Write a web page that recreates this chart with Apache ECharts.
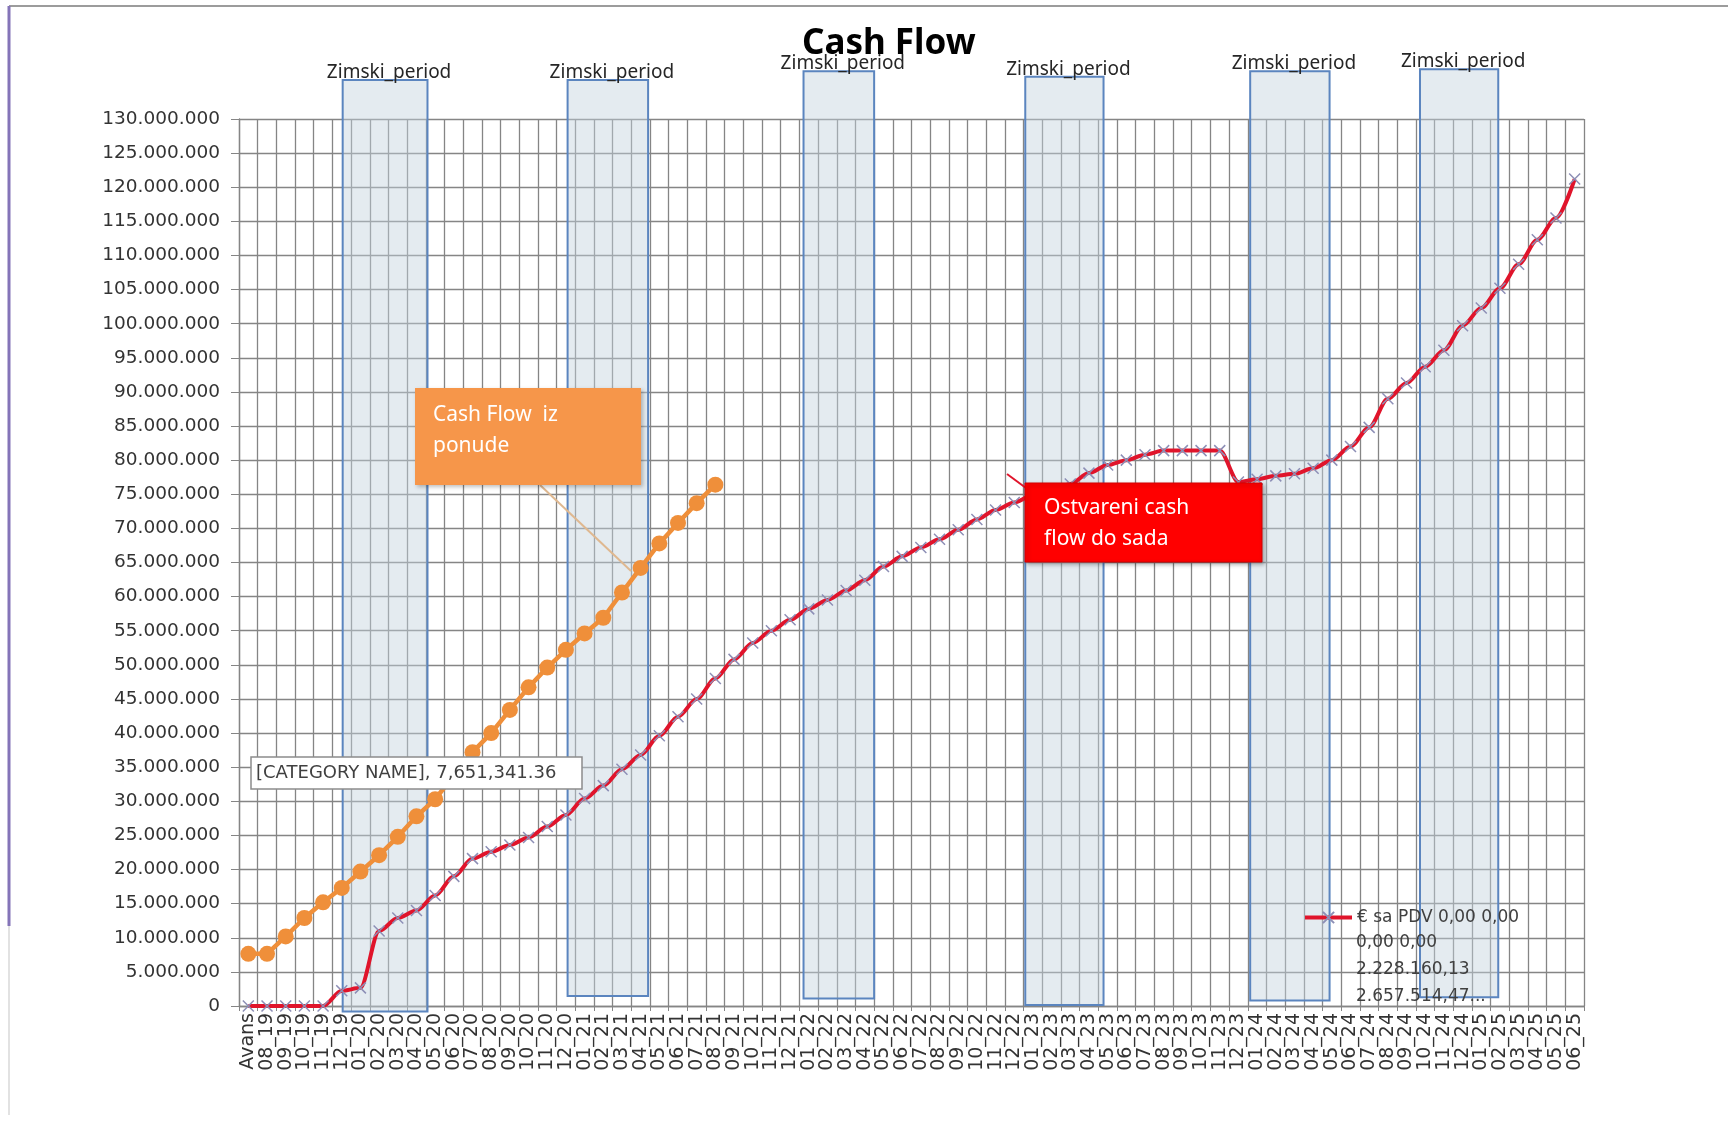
<!DOCTYPE html>
<html>
<head>
<meta charset="utf-8">
<script src="https://cdn.jsdelivr.net/npm/echarts@6/dist/echarts.min.js"></script>
<style>
html,body{margin:0;padding:0;background:#fff;}
#chart{width:1728px;height:1128px;}
</style>
</head>
<body>
<div id="chart"></div>
<script>
// ---------- DATA ----------
const categories = [
  'Avans','08_19','09_19','10_19','11_19','12_19',
  '01_20','02_20','03_20','04_20','05_20','06_20','07_20','08_20','09_20','10_20','11_20','12_20',
  '01_21','02_21','03_21','04_21','05_21','06_21','07_21','08_21','09_21','10_21','11_21','12_21',
  '01_22','02_22','03_22','04_22','05_22','06_22','07_22','08_22','09_22','10_22','11_22','12_22',
  '01_23','02_23','03_23','04_23','05_23','06_23','07_23','08_23','09_23','10_23','11_23','12_23',
  '01_24','02_24','03_24','04_24','05_24','06_24','07_24','08_24','09_24','10_24','11_24','12_24',
  '01_25','02_25','03_25','04_25','05_25','06_25'
];
// Ostvareni cash flow (€ sa PDV), in millions
const actualValues = [
  0, 0, 0, 0, 0, 2.228,
  2.658, 11.0, 12.9, 14.0, 16.2, 19.0, 21.6, 22.6, 23.6, 24.7, 26.3, 28.0,
  30.4, 32.3, 34.7, 36.8, 39.6, 42.4, 45.0, 48.0, 50.8, 53.2, 55.0, 56.6,
  58.2, 59.5, 60.9, 62.4, 64.4, 65.9, 67.2, 68.4, 69.8, 71.3, 72.7, 73.8,
  74.9, 75.5, 76.5, 78.1, 79.3, 80.0, 80.8, 81.4, 81.4, 81.4, 81.4, 76.8,
  77.2, 77.7, 78.0, 78.8, 80.0, 82.0, 84.8, 89.0, 91.3, 93.7, 96.1, 99.7,
  102.3, 105.2, 108.7, 112.3, 115.5, 121.2
];
// Cash Flow iz ponude, in millions
const offerValues = [
  7.651341, 7.65, 10.2, 12.9, 15.2, 17.3,
  19.7, 22.1, 24.8, 27.8, 30.3, 33.8, 37.2, 40.0, 43.4, 46.7, 49.6, 52.2,
  54.6, 56.9, 60.6, 64.2, 67.8, 70.8, 73.7, 76.4
];
const yTicks = { min: 0, max: 130, step: 5 }; // millions
const legendLines = ['€ sa PDV 0,00 0,00', '0,00 0,00', '2.228.160,13', '2.657.514,47...'];
const offerName = 'Cash Flow iz ponude';
// Winter periods (positions in category-boundary units, values in millions)
const winterStart  = [5.55, 17.59, 30.22, 42.09, 54.13, 63.22];
const winterEnd    = [10.09, 21.90, 34.00, 46.28, 58.38, 67.41];
const winterTop    = [135.7, 135.7, 137.0, 136.2, 137.0, 137.3];
const winterBottom = [-0.8, 1.45, 1.1, 0.16, 0.8, 1.3];
const winterLabel = 'Zimski_period';
const dataLabelText = '[CATEGORY NAME], 7,651,341.36';
const offerBoxLines = ['Cash Flow  iz', 'ponude'];
const actualBoxLines = ['Ostvareni cash', 'flow do sada'];

// ---------- BUILD ----------
const M = 1e6;
const actualName = legendLines.join(' ');
const fmt = v => v === 0 ? '0' : String(Math.round(v)).replace(/\B(?=(\d{3})+(?!\d))/g, '.');
const winterData = winterStart.map((s, i) => [s, winterEnd[i], winterTop[i] * M, winterBottom[i] * M]);

const chart = echarts.init(document.getElementById('chart'), null, { renderer: 'canvas' });
const gridColor = '#858585';
const TOP = 100;
const option = {
  animation: false,
  backgroundColor: '#ffffff',
  title: {
    text: 'Cash Flow',
    left: 797, top: 22,
    textStyle: { fontFamily: 'Noto Sans', fontWeight: 'bold', fontSize: 35, color: '#000' }
  },
  legend: {
    data: [actualName],
    left: 1298, top: 904,
    itemWidth: 47, itemHeight: 14,
    formatter: () => legendLines[0],
    lineStyle: { width: 4 },
    textStyle: { fontFamily: 'DejaVu Sans', fontSize: 17, color: '#404040' }
  },
  grid: { left: 239, right: 144, top: 119, bottom: 122, containLabel: false },
  xAxis: [
    {
      type: 'category', data: categories, boundaryGap: true,
      axisLine: { show: true, lineStyle: { color: gridColor, width: 1.3 } },
      axisTick: { show: true, interval: 0, length: 5, lineStyle: { color: gridColor } },
      axisLabel: { interval: 0, rotate: 90, margin: 7, fontFamily: 'DejaVu Sans', fontSize: 19, color: '#333333' },
      splitLine: { show: true, interval: 0, lineStyle: { color: gridColor, width: 1.3 } }
    },
    { type: 'value', min: 0, max: categories.length, show: false }
  ],
  yAxis: {
    type: 'value', min: yTicks.min * M, max: yTicks.max * M, interval: yTicks.step * M,
    axisLine: { show: true, lineStyle: { color: gridColor, width: 1.3 } },
    axisTick: { show: true, length: 8, lineStyle: { color: gridColor } },
    axisLabel: { formatter: fmt, margin: 19, fontFamily: 'DejaVu Sans', fontSize: 18.5, color: '#333333' },
    splitLine: { show: true, lineStyle: { color: gridColor, width: 1.3 } }
  },
  series: [
    {
      type: 'custom', name: winterLabel, xAxisIndex: 1, yAxisIndex: 0, z: 1, clip: false,
      silent: true,
      data: winterData,
      encode: { x: [0, 1], y: [2, 3] },
      renderItem: (params, api) => {
        const p0 = api.coord([api.value(0), api.value(2)]);
        const p1 = api.coord([api.value(1), api.value(3)]);
        return {
          type: 'group',
          children: [
            { type: 'rect', shape: { x: p0[0], y: p0[1], width: p1[0] - p0[0], height: p1[1] - p0[1] },
              style: { fill: 'rgba(196,210,222,0.45)', stroke: '#5b85bf', lineWidth: 2 } },
            { type: 'text', style: { text: winterLabel, x: (p0[0] + p1[0]) / 2 + 4, y: p0[1] + 2,
              align: 'center', verticalAlign: 'bottom', font: '19px "Noto Sans"', fill: '#262626' } }
          ]
        };
      }
    },
    {
      type: 'line', name: offerName, z: 3,
      data: offerValues.map(v => v * M),
      symbol: 'circle', symbolSize: 16,
      itemStyle: { color: '#EF8F3A' },
      lineStyle: { color: '#EF8F3A', width: 4.5 }
    },
    {
      type: 'line', name: actualName, z: 4,
      data: actualValues.map(v => v * M),
      smooth: 0.3, smoothMonotone: 'x',
      symbol: 'path://M0,0L10,10M10,0L0,10', symbolSize: 11,
      itemStyle: { color: 'rgba(0,0,0,0)', borderColor: '#8d8fb6', borderWidth: 1.5 },
      lineStyle: { color: '#E0142B', width: 4 }
    }
  ],
  graphic: [
    { type: 'line', z: TOP, shape: { x1: 9, y1: 6, x2: 1728, y2: 6 }, style: { stroke: '#9c9c9c', lineWidth: 2 } },
    { type: 'line', z: TOP, shape: { x1: 9, y1: 6, x2: 9, y2: 926 }, style: { stroke: '#8474b8', lineWidth: 3 } },
    { type: 'line', z: TOP, shape: { x1: 9, y1: 926, x2: 9, y2: 1115 }, style: { stroke: '#e2e2e2', lineWidth: 2 } },
    // legend continuation lines
    { type: 'text', z: TOP, style: { text: legendLines.slice(1).join('\n'), x: 1356, y: 929, lineHeight: 27,
      font: '17px "DejaVu Sans"', fill: '#404040' } },
    // orange callout
    { type: 'line', z: TOP, shape: { x1: 540, y1: 485, x2: 631, y2: 571 }, style: { stroke: '#dfb890', lineWidth: 2 } },
    { type: 'rect', z: TOP, shape: { x: 415, y: 388, width: 226, height: 97 },
      style: { fill: '#F6964A', shadowBlur: 4, shadowColor: 'rgba(0,0,0,0.25)', shadowOffsetX: 2, shadowOffsetY: 2 } },
    { type: 'text', z: TOP + 1, style: { text: offerBoxLines.join('\n'), x: 433, y: 400, font: '21px "Noto Sans"', lineHeight: 31, fill: '#fff' } },
    // red callout
    { type: 'line', z: TOP, shape: { x1: 1026, y1: 488, x2: 1007, y2: 474 }, style: { stroke: '#E0142B', lineWidth: 2 } },
    { type: 'rect', z: TOP, shape: { x: 1025, y: 483, width: 237, height: 79 },
      style: { fill: '#FF0000', stroke: '#d40000', lineWidth: 1, shadowBlur: 4, shadowColor: 'rgba(0,0,0,0.3)', shadowOffsetX: 2, shadowOffsetY: 2 } },
    { type: 'text', z: TOP + 1, style: { text: actualBoxLines.join('\n'), x: 1044, y: 493, font: '21px "Noto Sans"', lineHeight: 31, fill: '#fff' } },
    // data label box
    { type: 'rect', z: TOP, shape: { x: 251, y: 757, width: 331, height: 32 }, style: { fill: '#fff', stroke: '#8c8c8c', lineWidth: 1.5 } },
    { type: 'text', z: TOP + 1, style: { text: dataLabelText, x: 256, y: 773, verticalAlign: 'middle', font: '18px "DejaVu Sans"', fill: '#404040' } }
  ]
};
chart.setOption(option);
</script>
</body>
</html>
